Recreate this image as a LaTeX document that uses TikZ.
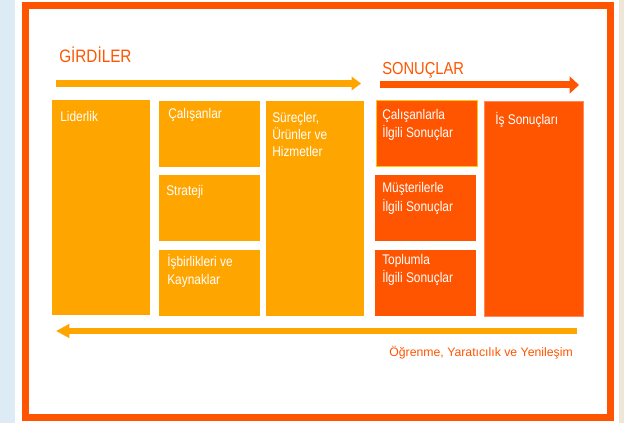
\documentclass[tikz,border=0pt]{standalone}
\usepackage{fontspec}
\setmainfont{Liberation Sans}
\newfontfamily\tah{Liberation Sans}[FakeStretch=0.85]
\usetikzlibrary{arrows.meta,calc}
\definecolor{yor}{HTML}{FFA500}
\definecolor{ror}{HTML}{FF5500}
\definecolor{bgblue}{HTML}{DDEBF5}
\definecolor{bgbeige}{HTML}{EEE6D6}
\definecolor{yedge}{HTML}{FFC800}
\definecolor{sedge}{HTML}{FF8A60}
\begin{document}
\begin{tikzpicture}[x=0.75pt,y=-0.75pt,
  ybox/.style={fill=yor, draw=none, inner sep=0pt, minimum width=#1},
  rbox/.style={fill=ror, draw=none, inner sep=0pt, minimum width=#1},
  boxtxt/.style={text=white, inner sep=0pt, anchor=base west, align=left,
    font=\tah\fontsize{10.5}{13.5}\selectfont},
  title/.style={text=ror, inner sep=0pt, anchor=base west, font=\tah\fontsize{13.5}{16}\selectfont},
  bigarrow/.style={line width=5.25pt}
]
\useasboundingbox (0,0) rectangle (624,423);
\fill[white] (0,0) rectangle (624,423);
\fill[bgblue] (0,0) rectangle (15,423);
\fill[bgbeige] (619,0) rectangle (624,423);
\draw[ror, line width=5.25pt] (25.5,5.5) rectangle (610.5,417);

% titles
\node[title] (gir) at (59,63) {GİRDİLER};
\node[title, font=\tah\fontsize{13}{16}\selectfont] (son) at (382,75) {SONUÇLAR};

% arrows
\coordinate (ga) at (56,83.5);
\coordinate (gb) at (361,83.5);
\draw[yor, bigarrow, -{Triangle[length=7pt,width=10pt]}] (ga) -- (gb);
\coordinate (sa) at (380,85);
\coordinate (sb) at (579,85);
\draw[ror, bigarrow, -{Triangle[length=7pt,width=12.5pt]}] (sa) -- (sb);
\coordinate (la) at (577,331);
\coordinate (lb) at (56,331);
\draw[yor, line width=4.9pt, -{Triangle[length=10pt,width=10pt]}] (la) -- (lb);

% boxes
\node[ybox=73.5pt, minimum height=161.25pt] (lid) at (101,207.5) {};
\node[ybox=75.75pt, minimum height=49.5pt] (cal) at (209.5,134) {};
\node[ybox=75.75pt, minimum height=49.5pt] (str) at (209.5,208) {};
\node[ybox=75.75pt, minimum height=49.5pt] (isb) at (209.5,283) {};
\node[ybox=73.5pt, minimum height=161.25pt] (sur) at (315,208.5) {};
\node[rbox=75.75pt, minimum height=49.5pt, draw=yedge, line width=0.75pt] (cil) at (426.5,134) {};
\node[rbox=75.75pt, minimum height=49.5pt] (mus) at (425.5,208) {};
\node[rbox=75.75pt, minimum height=49.5pt] (top) at (425.5,283) {};
\node[rbox=74.25pt, minimum height=161.25pt, draw=sedge, line width=0.5pt] (iss) at (533.5,208.5) {};

% box texts (base anchor = baseline of last line)
\node[boxtxt] (tlid) at (60,122) {Liderlik};
\node[boxtxt] (tcal) at (168,119) {Çalışanlar};
\node[boxtxt] (tstr) at (166,196) {Strateji};
\node[boxtxt] (tisb) at (167,285) {İşbirlikleri ve\\Kaynaklar};
\node[boxtxt, font=\tah\fontsize{10.5}{12.75}\selectfont] (tsur) at (272,157) {Süreçler,\\Ürünler ve\\Hizmetler};
\node[boxtxt] (tcil) at (382,138) {Çalışanlarla\\İlgili Sonuçlar};
\node[boxtxt, font=\tah\fontsize{10.5}{14.25}\selectfont] (tmus) at (382,212) {Müşterilerle\\İlgili Sonuçlar};
\node[boxtxt] (ttop) at (382,283) {Toplumla\\İlgili Sonuçlar};
\node[boxtxt] (tiss) at (495,125) {İş Sonuçları};

% bottom label
\node[text=ror, inner sep=0pt, anchor=base east, font=\fontsize{9.2}{11}\selectfont] (ogr) at (573,357) {Öğrenme, Yaratıcılık ve Yenileşim};
\end{tikzpicture}
\end{document}
